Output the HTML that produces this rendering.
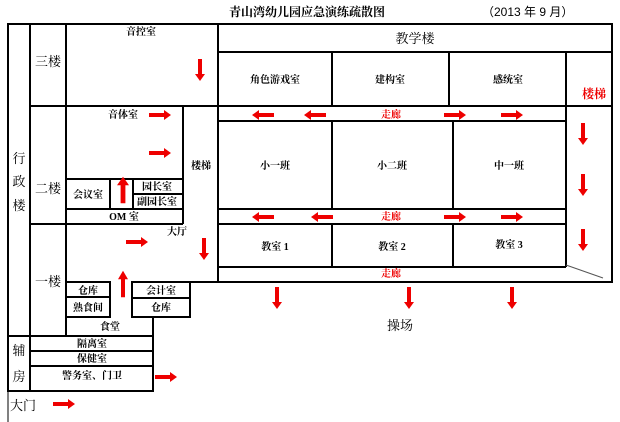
<!DOCTYPE html>
<html><head><meta charset="utf-8"><style>
html,body{margin:0;padding:0;background:#fff;}
svg{display:block;font-family:"Liberation Serif","Noto Serif CJK SC","Noto Sans CJK SC",serif;}
.b{font-weight:bold;font-size:10px;}
.r{fill:#e00;font-weight:bold;}
</style></head><body>
<svg width="620" height="422" viewBox="0 0 620 422" xmlns="http://www.w3.org/2000/svg">
<defs>
<polygon id="ar" points="-11,-2 4,-2 4,-5 11,0 4,5 4,2 -11,2" fill="#e00"/>
<polygon id="ad" points="-2,-11 2,-11 2,4 5,4 0,11 -5,4 -2,4" fill="#e00"/>
</defs>
<g stroke="#000" stroke-width="2" fill="none">
<!-- outer left column -->
<rect x="8" y="24" width="22" height="312"/>
<line x1="30" y1="24" x2="218" y2="24"/>
<line x1="66" y1="24" x2="66" y2="336"/>
<line x1="30" y1="106" x2="218" y2="106"/>
<line x1="218" y1="24" x2="218" y2="267"/>
<!-- teaching block -->
<rect x="218" y="24" width="394" height="258"/>
<line x1="218" y1="52" x2="612" y2="52"/>
<line x1="332" y1="52" x2="332" y2="106"/>
<line x1="449" y1="52" x2="449" y2="106"/>
<line x1="566" y1="52" x2="566" y2="267"/>
<line x1="218" y1="106" x2="612" y2="106"/>
<line x1="218" y1="121" x2="566" y2="121"/>
<line x1="332" y1="121" x2="332" y2="209"/>
<line x1="453" y1="121" x2="453" y2="209"/>
<line x1="218" y1="209" x2="566" y2="209"/>
<line x1="218" y1="224" x2="566" y2="224"/>
<line x1="332" y1="224" x2="332" y2="267"/>
<line x1="453" y1="224" x2="453" y2="267"/>
<line x1="218" y1="267" x2="566" y2="267"/>
<!-- second floor -->
<line x1="183" y1="106" x2="183" y2="224"/>
<line x1="66" y1="179" x2="183" y2="179"/>
<line x1="110" y1="179" x2="110" y2="209"/>
<line x1="133" y1="179" x2="133" y2="209"/>
<line x1="133" y1="194" x2="183" y2="194"/>
<line x1="66" y1="209" x2="183" y2="209"/>
<line x1="30" y1="224" x2="183" y2="224"/>
<!-- first floor -->
<rect x="66" y="282" width="44" height="35"/>
<line x1="66" y1="297" x2="110" y2="297"/>
<line x1="132" y1="282" x2="218" y2="282"/>
<rect x="132" y="282" width="58" height="35"/>
<line x1="132" y1="298" x2="190" y2="298"/>
<line x1="153" y1="317" x2="153" y2="391"/>
<!-- 辅房 -->
<rect x="8" y="336" width="145" height="55"/>
<line x1="30" y1="336" x2="30" y2="391"/>
<line x1="30" y1="351" x2="153" y2="351"/>
<line x1="30" y1="366" x2="153" y2="366"/>
<line x1="8" y1="391" x2="8" y2="422" stroke-width="1"/>
</g>
<line x1="566" y1="265" x2="603" y2="278" stroke="#555" stroke-width="1"/>
<!-- title -->
<text x="307" y="16" text-anchor="middle" font-size="12" font-weight="bold">青山湾幼儿园应急演练疏散图</text>
<text x="482" y="16" font-size="12" font-family="Liberation Sans,Noto Sans CJK SC,sans-serif">（2013 年 9 月）</text>
<text x="415" y="43" text-anchor="middle" font-size="13">教学楼</text>
<g class="b" text-anchor="middle">
<text x="141" y="35">音控室</text>
<text x="275" y="83">角色游戏室</text>
<text x="390" y="83">建构室</text>
<text x="508" y="83">感统室</text>
<text x="275" y="169">小一班</text>
<text x="392" y="169">小二班</text>
<text x="509" y="169">中一班</text>
<text x="275" y="250">教室 1</text>
<text x="392" y="250">教室 2</text>
<text x="509" y="248">教室 3</text>
<text x="123" y="118">音体室</text>
<text x="201" y="169">楼梯</text>
<text x="88" y="198">会议室</text>
<text x="157" y="190">园长室</text>
<text x="157" y="205">副园长室</text>
<text x="124" y="220">OM 室</text>
<text x="177" y="235">大厅</text>
<text x="88" y="294">仓库</text>
<text x="88" y="311">熟食间</text>
<text x="161" y="294">会计室</text>
<text x="161" y="311">仓库</text>
<text x="110" y="330">食堂</text>
<text x="92" y="347">隔离室</text>
<text x="92" y="362">保健室</text>
<text x="92" y="379">警务室、门卫</text>
</g>
<g font-size="13">
<text x="48" y="66" text-anchor="middle">三楼</text>
<text x="48" y="193" text-anchor="middle">二楼</text>
<text x="48" y="286" text-anchor="middle">一楼</text>
<text x="19" y="163" text-anchor="middle">行</text>
<text x="19" y="186" text-anchor="middle">政</text>
<text x="19" y="210" text-anchor="middle">楼</text>
<text x="19" y="355" text-anchor="middle">辅</text>
<text x="19" y="381" text-anchor="middle">房</text>
<text x="10" y="410">大门</text>
<text x="400" y="330" text-anchor="middle">操场</text>
</g>
<g class="r" font-size="10" text-anchor="middle">
<text x="391" y="118">走廊</text>
<text x="391" y="220">走廊</text>
<text x="391" y="277">走廊</text>
<text x="594" y="98" font-size="12">楼梯</text>
</g>
<!-- arrows -->
<use href="#ar" x="160" y="115"/>
<use href="#ar" x="160" y="153"/>
<use href="#ar" x="137" y="242"/>
<use href="#ar" x="166" y="377"/>
<use href="#ar" x="64" y="404"/>
<use href="#ar" x="455" y="115"/>
<use href="#ar" x="512" y="115"/>
<use href="#ar" x="455" y="217"/>
<use href="#ar" x="512" y="217"/>
<use href="#ar" transform="translate(263,115) scale(-1,1)"/>
<use href="#ar" transform="translate(315,115) scale(-1,1)"/>
<use href="#ar" transform="translate(263,217) scale(-1,1)"/>
<use href="#ar" transform="translate(322,217) scale(-1,1)"/>
<use href="#ad" x="200" y="70"/>
<use href="#ad" x="204" y="249"/>
<use href="#ad" x="277" y="298"/>
<use href="#ad" x="409" y="298"/>
<use href="#ad" x="512" y="298"/>
<use href="#ad" x="583" y="134"/>
<use href="#ad" x="583" y="185"/>
<use href="#ad" x="583" y="240"/>
<use href="#ad" transform="translate(123,190) scale(1.2,-1.2)"/>
<use href="#ad" transform="translate(123,284) scale(1,-1.2)"/>
</svg>
</body></html>
